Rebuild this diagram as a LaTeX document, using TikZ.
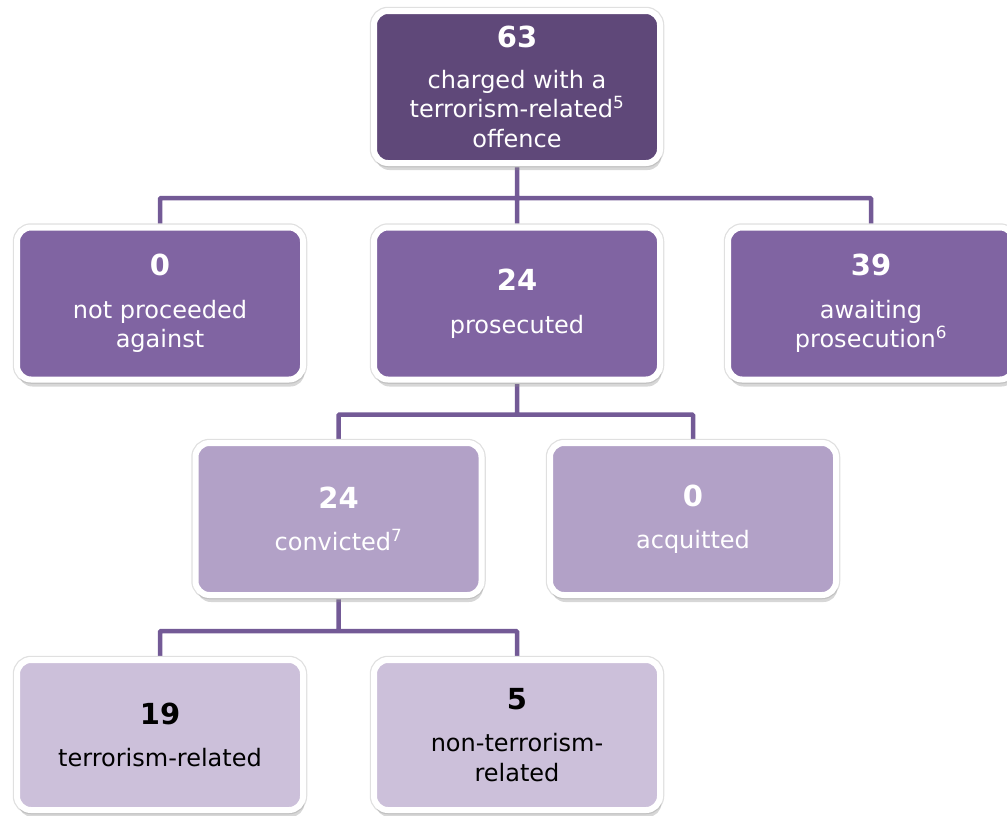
\documentclass[tikz,border=0pt]{standalone}
\usepackage{fontspec}
\setmainfont{DejaVu Sans}
\usetikzlibrary{shadows,backgrounds}

\definecolor{darkplum}{HTML}{5F4879}
\definecolor{plum}{HTML}{8064A2}
\definecolor{lightplum}{HTML}{B2A1C7}
\definecolor{paleplum}{HTML}{CCC0DA}
\definecolor{linkplum}{HTML}{735A96}

\newcommand{\bignum}[1]{{\fontsize{29}{30}\selectfont\bfseries #1}}

\begin{document}
\begin{tikzpicture}[x=1pt,y=-1pt,
                    font=\fontsize{24}{29.5}\selectfont]
  \tikzstyle{box}=[draw=white,line width=6pt,rounded corners=14pt,
                   align=center,minimum width=286pt,minimum height=152pt,
                   preaction={draw=black!12,line width=8.5pt},
                   drop shadow={shadow xshift=1.5pt,shadow yshift=-7pt,
                                opacity=.35,fill=black!45}]
  \tikzstyle{level1}=[box,fill=darkplum,text=white]
  \tikzstyle{level2}=[box,fill=plum,text=white]
  \tikzstyle{level3}=[box,fill=lightplum,text=white]
  \tikzstyle{level4}=[box,fill=paleplum,text=black,minimum height=150pt]
  \tikzstyle{link}=[draw=linkplum,line width=4.5pt,rounded corners=1pt]

  \useasboundingbox (0,0) rectangle (1007,815);

  \node[level1] (charged) at (517,87)    {\bignum{63}\\[11pt] charged with a\\ terrorism-related\textsuperscript{5}\\ offence};
  \node[level2] (notproc) at (160,303.5) {\bignum{0}\\[13pt] not proceeded\\ against};
  \node[level2] (prosec)  at (517,303.5) {\bignum{24}\\[13pt] prosecuted};
  \node[level2] (await)   at (871,303.5) {\bignum{39}\\[13pt] awaiting\\ prosecution\textsuperscript{6}};
  \node[level3] (convict) at (338.5,519) {\bignum{24}\\[13pt] convicted\textsuperscript{7}};
  \node[level3] (acquit)  at (693,519)   {\bignum{0}\\[13pt] acquitted};
  \node[level4] (terr)    at (160,735)   {\bignum{19}\\[13pt] terrorism-related};
  \node[level4] (nonterr) at (517,735)   {\bignum{5}\\[13pt] non-terrorism-\\ related};

  \begin{scope}[on background layer]
  \path[link] (charged.south) -- ++(0,32) coordinate (split1)
              (split1) -| (notproc.north)
              (split1) -| (await.north)
              (split1) -- (prosec.north);
  \path[link] (prosec.south) -- ++(0,32) coordinate (split2)
              (split2) -| (convict.north)
              (split2) -| (acquit.north);
  \path[link] (convict.south) -- ++(0,33) coordinate (split3)
              (split3) -| (terr.north)
              (split3) -| (nonterr.north);
  \end{scope}
\end{tikzpicture}
\end{document}
